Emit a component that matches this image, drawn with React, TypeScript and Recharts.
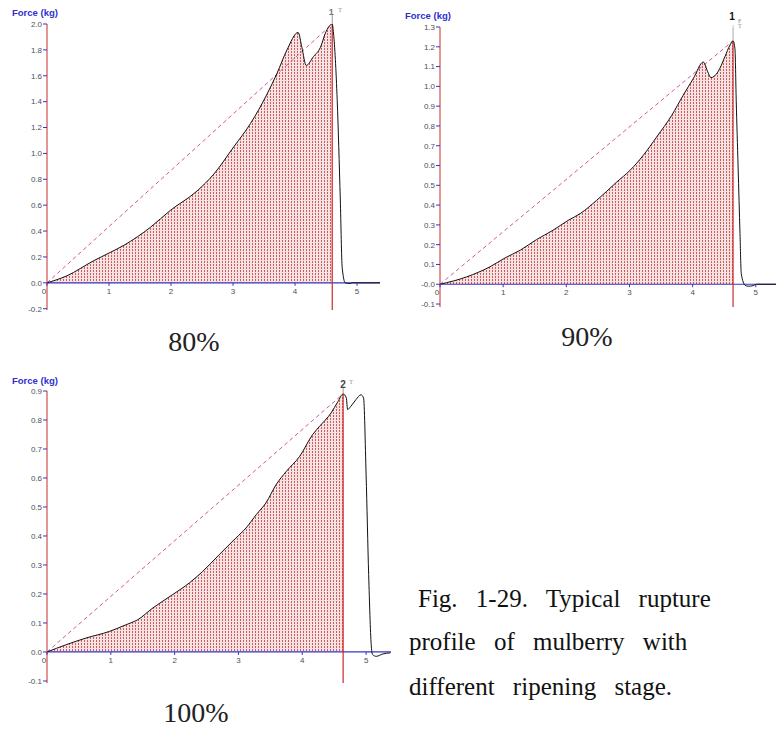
import React from 'react';
import { ComposedChart, Area, Line, XAxis, YAxis, ReferenceLine, ReferenceDot } from 'recharts';

// displacement (mm) and force (kg) traces, one pair per ripening stage
const disp80 = [0, 0.32, 0.75, 1.02, 1.24, 1.67, 1.99, 2.42, 2.69, 3.01, 3.28, 3.55, 3.71, 3.87, 4.05, 4.11, 4.18, 4.3, 4.41, 4.49, 4.6, 4.62, 4.68, 4.73, 4.76, 4.81, 4.89, 4.92, 5.37];
const force80 = [0, 0.054, 0.17, 0.235, 0.29, 0.43, 0.56, 0.71, 0.84, 1.05, 1.23, 1.46, 1.62, 1.8, 1.935, 1.82, 1.68, 1.75, 1.82, 1.93, 2.0, 1.93, 1.41, 0.64, 0.12, 0, -0.005, 0, 0];

const disp90 = [0, 0.42, 0.79, 1.03, 1.27, 1.53, 1.79, 2.03, 2.22, 2.48, 2.8, 3.01, 3.22, 3.43, 3.67, 3.85, 4.01, 4.17, 4.24, 4.29, 4.4, 4.51, 4.59, 4.64, 4.67, 4.69, 4.72, 4.75, 4.77, 4.83, 4.88, 4.96, 5.01, 5.32];
const force90 = [0, 0.037, 0.088, 0.133, 0.172, 0.226, 0.273, 0.323, 0.357, 0.424, 0.517, 0.576, 0.652, 0.744, 0.854, 0.955, 1.039, 1.123, 1.073, 1.044, 1.073, 1.149, 1.208, 1.23, 1.19, 0.93, 0.593, 0.256, 0.054, -0.005, -0.01, -0.007, 0, 0];

const disp100 = [0, 0.3, 0.61, 0.98, 1.24, 1.42, 1.66, 1.97, 2.23, 2.44, 2.7, 2.96, 3.12, 3.28, 3.43, 3.59, 3.75, 3.96, 4.16, 4.27, 4.45, 4.56, 4.64, 4.69, 4.71, 4.76, 4.84, 4.92, 4.96, 5.0, 5.04, 5.08, 5.1, 5.16, 5.26, 5.38];
const force100 = [0, 0.025, 0.048, 0.071, 0.094, 0.111, 0.152, 0.198, 0.238, 0.278, 0.336, 0.393, 0.428, 0.474, 0.514, 0.577, 0.623, 0.675, 0.749, 0.778, 0.824, 0.864, 0.89, 0.876, 0.836, 0.847, 0.87, 0.887, 0.876, 0.611, 0.267, 0.025, -0.009, -0.015, -0.007, -0.003];

// rupture displacement for each trace
const rupture80 = 4.6;
const rupture90 = 4.64;
const rupture100 = 4.64;

const xTicks = [0, 1, 2, 3, 4, 5];

const yTicks80 = [-0.2, 0, 0.2, 0.4, 0.6, 0.8, 1.0, 1.2, 1.4, 1.6, 1.8, 2.0];
const yLabels80 = ['-0.2', '0.0', '0.2', '0.4', '0.6', '0.8', '1.0', '1.2', '1.4', '1.6', '1.8', '2.0'];
const yTicks90 = [-0.1, 0, 0.1, 0.2, 0.3, 0.4, 0.5, 0.6, 0.7, 0.8, 0.9, 1.0, 1.1, 1.2, 1.3];
const yLabels90 = ['-0.1', '-0.0', '0.1', '0.2', '0.3', '0.4', '0.5', '0.6', '0.7', '0.8', '0.9', '1.0', '1.1', '1.2', '1.3'];
const yTicks100 = [-0.1, 0, 0.1, 0.2, 0.3, 0.4, 0.5, 0.6, 0.7, 0.8, 0.9];
const yLabels100 = ['-0.1', '0.0', '0.1', '0.2', '0.3', '0.4', '0.5', '0.6', '0.7', '0.8', '0.9'];

const RED = '#cc2a2a';
const BLUE = '#3434c8';
const tickFont = { fontSize: 8, fill: '#505050', fontFamily: 'Liberation Sans' };

type Marker = (cx: number, cy: number) => React.ReactNode;

const marker80: Marker = (cx, cy) => (
  <g>
    <line x1={cx} y1={cy} x2={cx} y2={cy - 9} stroke="#999" />
    <text x={cx - 1} y={cy - 9} textAnchor="middle" fontSize={9} fontWeight="bold" fill="#777" fontFamily="Liberation Sans">1</text>
    <text x={cx + 6} y={cy - 12} fontSize={6} fill="#888" fontFamily="Liberation Serif">T</text>
  </g>
);

const marker90: Marker = (cx, cy) => (
  <g>
    <line x1={cx} y1={cy} x2={cx} y2={cy - 12} stroke="#aaa" />
    <text x={cx - 1} y={cy - 21} textAnchor="middle" fontSize={10} fontWeight="bold" fill="#111" fontFamily="Liberation Sans">1</text>
    <text x={cx + 5} y={cy - 18} fontSize={6} fill="#888" fontFamily="Liberation Serif">F</text>
    <text x={cx} y={cy - 12} textAnchor="middle" fontSize={6} fill="#999" fontFamily="Liberation Serif">1</text>
    <text x={cx + 5} y={cy - 13} fontSize={6} fill="#888" fontFamily="Liberation Serif">T</text>
  </g>
);

const marker100: Marker = (cx, cy) => (
  <g>
    <line x1={cx} y1={cy} x2={cx} y2={cy - 6} stroke="#999" />
    <text x={cx} y={cy - 6} textAnchor="middle" fontSize={10} fontWeight="bold" fill="#444" fontFamily="Liberation Sans">2</text>
    <text x={cx + 6} y={cy - 10} fontSize={6} fill="#888" fontFamily="Liberation Serif">T</text>
  </g>
);

type ChartProps = {
  id: string;
  disp: number[];
  force: number[];
  rupture: number;
  yTicks: number[];
  yLabels: string[];
  yDomain: [number, number];
  xMax: number;
  left: number;
  top: number;
  width: number;
  height: number;
  axisW: number;
  padTop: number;
  padBottom: number;
  marker: Marker;
};

function RuptureChart(p: ChartProps) {
  const rows = p.disp.map((x, i) => ({ x, f: p.force[i], hatch: x <= p.rupture ? p.force[i] : null }));
  const peak = p.force[p.disp.indexOf(p.rupture)];
  return (
    <div style={{ position: 'absolute', left: p.left, top: p.top }}>
      <ComposedChart
        width={p.width}
        height={p.height}
        data={rows}
        margin={{ top: p.padTop, right: 0, bottom: p.padBottom, left: 0 }}
      >
        <defs>
          {/* dashed vertical hatching under the curve */}
          <pattern id={p.id} width={3} height={3} patternUnits="userSpaceOnUse">
            <rect x={0} y={0} width={3} height={3} fill="#f6e4e4" />
            <rect x={0} y={0} width={1} height={2} fill="#d25a5a" />
          </pattern>
        </defs>
        <XAxis dataKey="x" type="number" domain={[0, p.xMax]} hide allowDataOverflow />
        <YAxis
          type="number"
          domain={p.yDomain}
          ticks={p.yTicks}
          interval={0}
          allowDataOverflow
          width={p.axisW}
          tickSize={4}
          tickMargin={1}
          tickFormatter={(v: number) => p.yLabels[p.yTicks.indexOf(v)]}
          axisLine={{ stroke: RED }}
          tickLine={{ stroke: BLUE }}
          tick={tickFont}
        />
        <Area
          dataKey="hatch"
          type="monotone"
          stroke="none"
          fill={`url(#${p.id})`}
          fillOpacity={1}
          baseValue={0}
          isAnimationActive={false}
        />
        <ReferenceLine y={0} stroke={BLUE} strokeWidth={1.2} />
        <ReferenceLine
          segment={[{ x: 0, y: 0 }, { x: p.rupture, y: peak }]}
          stroke="#d4579a"
          strokeDasharray="4 3"
        />
        <ReferenceLine
          segment={[{ x: p.rupture, y: p.yDomain[0] }, { x: p.rupture, y: peak }]}
          stroke={RED}
          strokeWidth={1.2}
        />
        <Line dataKey="f" type="monotone" stroke="#111" strokeWidth={1} dot={false} isAnimationActive={false} />
        {xTicks.map((k) => (
          <ReferenceDot
            key={k}
            x={k}
            y={0}
            r={0}
            shape={(s: any) => (
              <g>
                <line x1={s.cx} y1={s.cy} x2={s.cx} y2={s.cy + 3} stroke={BLUE} />
                <text x={k === 0 ? s.cx - 3 : s.cx} y={s.cy + 11} textAnchor="middle" {...tickFont}>
                  {k}
                </text>
              </g>
            )}
          />
        ))}
        <ReferenceDot x={p.rupture} y={peak} r={0} shape={(s: any) => p.marker(s.cx, s.cy)} />
      </ComposedChart>
    </div>
  );
}

const axisTitle: React.CSSProperties = {
  position: 'absolute',
  fontFamily: 'Liberation Sans',
  fontWeight: 'bold',
  fontSize: 9.5,
  color: '#2f2fd0',
  lineHeight: '10px',
  whiteSpace: 'nowrap',
};

const stageLabel: React.CSSProperties = {
  position: 'absolute',
  width: 120,
  textAlign: 'center',
  fontFamily: 'Liberation Serif',
  fontSize: 28,
  lineHeight: '28px',
  color: '#222',
};

const captionLine: React.CSSProperties = {
  position: 'absolute',
  fontFamily: 'Liberation Serif',
  fontSize: 25,
  lineHeight: '25px',
  color: '#111',
  wordSpacing: 12,
  whiteSpace: 'nowrap',
};

export default function App() {
  return (
    <div style={{ position: 'absolute', left: 0, top: 0, width: 776, height: 729, background: '#fff', overflow: 'hidden' }}>
      <RuptureChart
        id="hatch80"
        disp={disp80}
        force={force80}
        rupture={rupture80}
        yTicks={yTicks80}
        yLabels={yLabels80}
        yDomain={[-0.21, 2.0]}
        xMax={5.37}
        left={0}
        top={0}
        width={380}
        height={320}
        axisW={47}
        padTop={24}
        padBottom={10}
        marker={marker80}
      />
      <RuptureChart
        id="hatch90"
        disp={disp90}
        force={force90}
        rupture={rupture90}
        yTicks={yTicks90}
        yLabels={yLabels90}
        yDomain={[-0.115, 1.3]}
        xMax={5.32}
        left={390}
        top={0}
        width={386}
        height={320}
        axisW={50}
        padTop={27}
        padBottom={13}
        marker={marker90}
      />
      <RuptureChart
        id="hatch100"
        disp={disp100}
        force={force100}
        rupture={rupture100}
        yTicks={yTicks100}
        yLabels={yLabels100}
        yDomain={[-0.107, 0.9]}
        xMax={5.39}
        left={0}
        top={340}
        width={391}
        height={350}
        axisW={47}
        padTop={51}
        padBottom={7}
        marker={marker100}
      />

      <div style={{ ...axisTitle, left: 12, top: 8 }}>Force (kg)</div>
      <div style={{ ...axisTitle, left: 405, top: 11 }}>Force (kg)</div>
      <div style={{ ...axisTitle, left: 12, top: 376 }}>Force (kg)</div>

      <div style={{ ...stageLabel, left: 134, top: 328 }}>80%</div>
      <div style={{ ...stageLabel, left: 527, top: 323 }}>90%</div>
      <div style={{ ...stageLabel, left: 136, top: 699 }}>100%</div>

      <div style={{ ...captionLine, left: 418, top: 586 }}>Fig. 1-29. Typical rupture</div>
      <div style={{ ...captionLine, left: 409, top: 629 }}>profile of mulberry with</div>
      <div style={{ ...captionLine, left: 409, top: 674 }}>different ripening stage.</div>
    </div>
  );
}
